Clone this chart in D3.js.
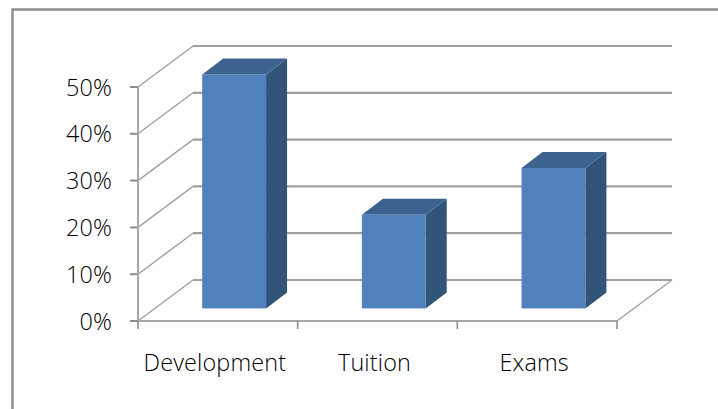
<!DOCTYPE html>
<html>
<head>
<meta charset="utf-8">
<script src="https://cdn.jsdelivr.net/npm/d3@7/dist/d3.min.js"></script>
<style>
  html, body { margin: 0; padding: 0; background: #fff; }
  svg { display: block; }
  text { font-family: "Open Sans", sans-serif; font-size: 23.4px; font-weight: 300; letter-spacing: 0.15px; fill: #000; }
</style>
</head>
<body>
<svg id="chart" width="718" height="409"></svg>
<script>
const categories = ["Development", "Tuition", "Exams"];
const shares = [50, 20, 30];
const yTicks = [0, 10, 20, 30, 40, 50];

const svg = d3.select("#chart");

// Front plane of the 3-D plot box and the offset to its back wall
const x = d3.scaleBand().domain(categories).range([138, 617]).paddingInner(0.6).paddingOuter(0.3);
const y = d3.scaleLinear().domain([0, 50]).range([321, 87]);
const depth = { dx: 55, dy: -41 };
const barDepth = { dx: 21, dy: -16 };
const barShift = { dx: 16.3, dy: -12.6 };

// Frame: only the top and left edges are visible
svg.append("path")
  .attr("d", d3.line()([[12.5, 409], [12.5, 9.5], [718, 9.5]]))
  .attr("fill", "none").attr("stroke", "#8c8c8c").attr("stroke-width", 2.4);

const grid = svg.append("g").attr("fill", "none");
const gridColor = "#a0a0a0";

// Diagonal gridlines on the side wall, horizontal ones on the back wall
yTicks.forEach(t => {
  const y0 = y(t);
  grid.append("line")
    .attr("x1", 138).attr("y1", y0)
    .attr("x2", 138 + depth.dx).attr("y2", y0 + depth.dy)
    .attr("stroke", gridColor).attr("stroke-width", 1.4);
  grid.append("line")
    .attr("x1", 138 + depth.dx).attr("y1", y0 + depth.dy)
    .attr("x2", 617 + depth.dx).attr("y2", y0 + depth.dy)
    .attr("stroke", gridColor).attr("stroke-width", 2.2);
  grid.append("line")
    .attr("x1", 130).attr("x2", 138).attr("y1", y0).attr("y2", y0)
    .attr("stroke", "#8c8c8c").attr("stroke-width", 2);
  svg.append("text")
    .attr("x", 112).attr("y", y0 + 8.5)
    .attr("text-anchor", "end")
    .text(t + "%");
});

// Category axis along the front of the floor
const step = x.step();
const xEdges = [0, 1, 2, 3].map(i => 138 + i * step);
grid.append("path")
  .attr("d", d3.line()([[138, 87], [138, 321], [617, 321]]))
  .attr("stroke", "#a8a8a8").attr("stroke-width", 2);
grid.append("line")
  .attr("x1", 617).attr("y1", 321)
  .attr("x2", 617 + depth.dx).attr("y2", 321 + depth.dy)
  .attr("stroke", gridColor).attr("stroke-width", 1.4);
xEdges.forEach(e => {
  grid.append("line")
    .attr("x1", e).attr("x2", e).attr("y1", 321).attr("y2", 329)
    .attr("stroke", "#8c8c8c").attr("stroke-width", 1.6);
});

categories.forEach(c => {
  svg.append("text")
    .attr("x", x(c) + x.bandwidth() / 2 - 3)
    .attr("y", 371)
    .attr("text-anchor", "middle")
    .text(c);
});

// Each bar is three faces: side, top, front
const bars = svg.append("g").selectAll("g")
  .data(categories.map((c, i) => ({ c, v: shares[i] })))
  .join("g");

const poly = pts => d3.line()(pts) + "Z";
const barLeft = d => x(d.c) + barShift.dx;
const barRight = d => barLeft(d) + x.bandwidth();
const barTop = d => y(d.v) + barShift.dy;
const barBase = () => y(0) + barShift.dy;

bars.append("path").attr("fill", "#325479")
  .attr("d", d => poly([[barRight(d), barTop(d)], [barRight(d) + barDepth.dx, barTop(d) + barDepth.dy],
                        [barRight(d) + barDepth.dx, barBase() + barDepth.dy], [barRight(d), barBase()]]));
bars.append("path").attr("fill", "#3c6290")
  .attr("d", d => poly([[barLeft(d), barTop(d)], [barLeft(d) + barDepth.dx, barTop(d) + barDepth.dy],
                        [barRight(d) + barDepth.dx, barTop(d) + barDepth.dy], [barRight(d), barTop(d)]]));
bars.append("rect").attr("fill", "#4f81bd")
  .attr("x", barLeft).attr("y", barTop)
  .attr("width", x.bandwidth())
  .attr("height", d => barBase() - barTop(d));
</script>
</body>
</html>
